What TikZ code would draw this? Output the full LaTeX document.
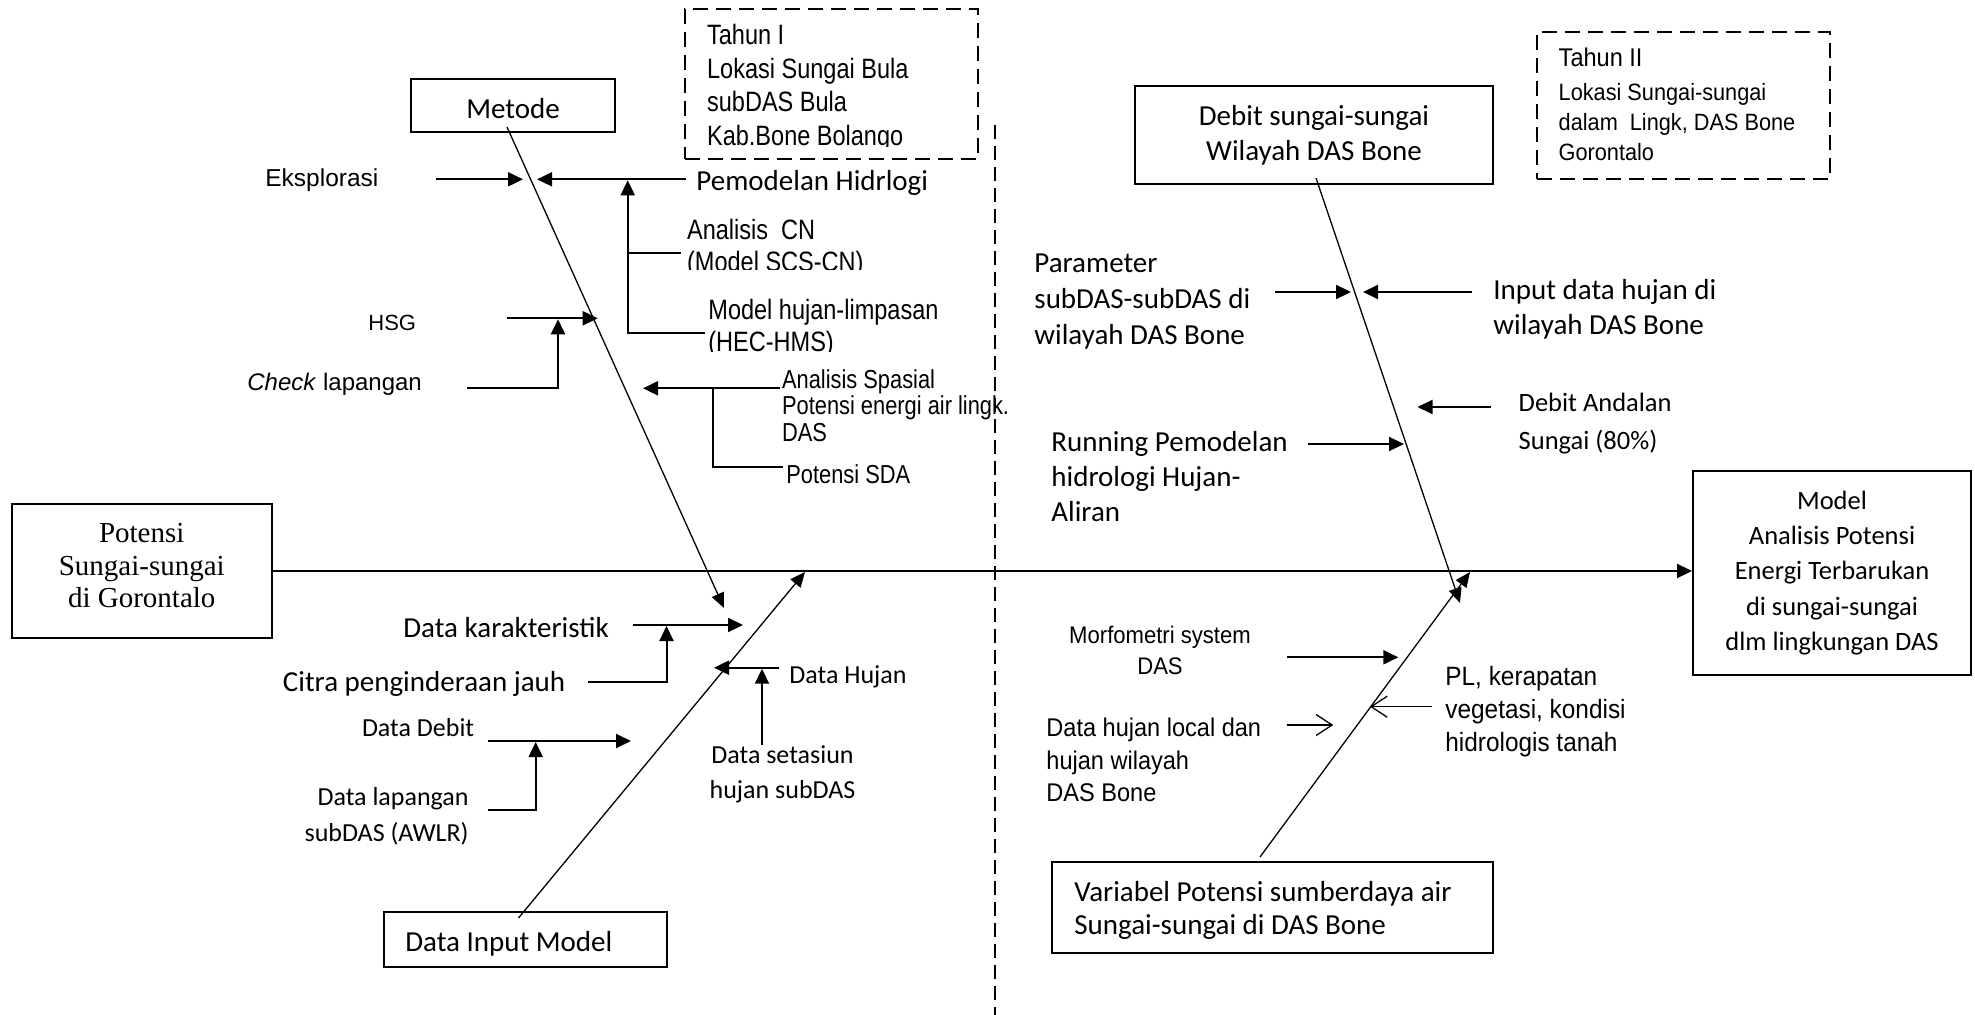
\documentclass[tikz,border=0pt]{standalone}
\usepackage{fontspec}
\setmainfont{Carlito}
\newfontfamily\calfont{Carlito}
\newfontfamily\arR{Liberation Sans}
\newfontfamily\arN[FakeStretch=0.84]{Liberation Sans}
\newfontfamily\arM[FakeStretch=0.92]{Liberation Sans}
\newfontfamily\tmsfont{Liberation Serif}
\usetikzlibrary{arrows.meta}
\newcommand\myfA{\calfont\fontsize{14.5}{17.5}\selectfont}
\newcommand\myfB{\calfont\fontsize{13}{17.5}\selectfont}
\tikzset{
  box/.style={draw, line width=1pt, inner sep=0pt},
  dbox/.style={draw, line width=1pt, dash pattern=on 7.5pt off 4pt, inner sep=0pt},
  lbl/.style={inner sep=0pt, anchor=base west},
  mlbl/.style={inner sep=0pt, anchor=base west, align=flush left, text width=#1},
  clbl/.style={inner sep=0pt, anchor=base, align=flush center, text width=#1},
  rlbl/.style={inner sep=0pt, anchor=base east, align=flush right, text width=#1},
  arr/.style={line width=1pt, -{Triangle[length=7.5pt,width=7pt]}},
  bonearr/.style={line width=0.65pt, -{Triangle[length=7.5pt,width=6.5pt]}},
  plainln/.style={line width=1pt},
  oarr/.style={line width=0.65pt, -{Straight Barb[length=8pt,width=10.5pt]}},
}
\begin{document}
\begin{tikzpicture}[x=0.5pt,y=-0.5pt]
\useasboundingbox (0,0) rectangle (1975,1015);

% ---------- boxes ----------
\node[box, minimum width=102pt, minimum height=26.5pt] (metode) at (513,105.5) {};
\node[inner sep=0pt, anchor=base, font=\myfA] (metodet) at (513,118.3) {Metode};

\node[box, minimum width=179pt, minimum height=49pt, align=center, font=\myfA] (debit) at (1314,135) {Debit sungai-sungai\\Wilayah DAS Bone};

\node[box, minimum width=130.25pt, minimum height=67pt] (potensi) at (141.75,571) {};
\node[clbl=120pt, font=\tmsfont\fontsize{14.5}{16.25}\selectfont] (potensit) at (141.75,542.6) {Potensi\\Sungai-sungai\\di Gorontalo};

\node[box, minimum width=139pt, minimum height=102pt, align=center, font=\calfont\fontsize{13.25}{17.7}\selectfont] (model) at (1832,573) {Model\\Analisis Potensi\\Energi Terbarukan\\di sungai-sungai\\dlm lingkungan DAS};

\node[box, minimum width=141.25pt, minimum height=27.5pt] (input) at (525.25,939.5) {};
\node[lbl, font=\myfA] (inputt) at (405,951.3) {Data Input Model};

\node[box, minimum width=220.5pt, minimum height=45.5pt] (variabel) at (1272.5,907.5) {};
\node[mlbl=205pt, font=\calfont\fontsize{14.5}{16.5}\selectfont] (variabelt) at (1074,901.3) {Variabel Potensi sumberdaya air\\Sungai-sungai di DAS Bone};

\node[dbox, minimum width=146.5pt, minimum height=75pt] (tahun1) at (831.5,84) {};
\node[dbox, minimum width=146.5pt, minimum height=73.5pt] (tahun2) at (1683.5,105.5) {};

\begin{scope}
\clip (686,10) rectangle (977,146.7);
\node[mlbl=140pt, font=\arN\fontsize{14}{16.67}\selectfont] (tahun1t) at (706.7,45) {Tahun I\\Lokasi Sungai Bula\\subDAS Bula\\Kab.Bone Bolango};
\end{scope}

\node[mlbl=135pt, font=\arM\fontsize{11.8}{15}\selectfont] (tahun2t) at (1558.3,66.7) {{\fontsize{12.8}{15}\selectfont Tahun II}\\[1.7pt]Lokasi Sungai-sungai\\dalam\ \ Lingk, DAS Bone\\Gorontalo};

% dashed separator
\coordinate (sep0) at (995,125);
\coordinate (sep1) at (995,1015);
\draw[line width=0.85pt, dash pattern=on 7pt off 3.5pt] (sep0) -- (sep1);

% ---------- spine ----------
\draw[arr] (potensi.east) -- (potensi.east -| model.west);

% ---------- bones ----------
\coordinate (mb0) at (507,127);   \coordinate (mb1) at (724,608);
\coordinate (db0) at (1316,178);  \coordinate (db1) at (1460,603);
\coordinate (ib0) at (518.5,918); \coordinate (ib1) at (805,572);
\coordinate (vb0) at (1260,857);  \coordinate (vb1) at (1470,572);
\draw[bonearr] (mb0) -- (mb1);
\draw[bonearr] (db0) -- (db1);
\draw[bonearr] (ib0) -- (ib1);
\draw[bonearr] (vb0) -- (vb1);

% ---------- Metode side ----------
\node[lbl, font=\arR\fontsize{12.25}{14}\selectfont] (eks) at (265,186.7) {Eksplorasi};
\coordinate (ek0) at (436,179.3); \coordinate (ek1) at (523,179.3);
\draw[arr] (ek0) -- (ek1);

\node[lbl, font=\myfA] (pem) at (696,191) {Pemodelan Hidrlogi};
\coordinate (pm0) at (686,179.3); \coordinate (pm1) at (537,179.3);
\draw[arr] (pm0) -- (pm1);
\coordinate (pv0) at (627.7,332.7); \coordinate (pv1) at (627.7,180.3);
\coordinate (cn0) at (627.7,252.7); \coordinate (cn1) at (681,252.7);
\coordinate (mh1) at (705,332.7);
\draw[plainln] (cn0) -- (cn1);
\draw[arr] (mh1) -- (pv0) -- (pv1);

\begin{scope}
\clip (680,200) rectangle (990,270);
\node[mlbl=150pt, font=\arN\fontsize{14}{15.75}\selectfont] (cnt) at (686.7,240) {Analisis\ \ CN\\(Model SCS-CN)};
\end{scope}
\begin{scope}
\clip (700,280) rectangle (990,351.7);
\node[mlbl=150pt, font=\arN\fontsize{14}{15.85}\selectfont] (hmst) at (708,320) {Model hujan-limpasan\\(HEC-HMS)};
\end{scope}

\node[lbl, font=\arR\fontsize{11}{13}\selectfont] (hsg) at (368,330.7) {HSG};
\coordinate (hs0) at (507,318.3); \coordinate (hs1) at (597.7,318.3);
\draw[arr] (hs0) -- (hs1);
\node[lbl, font=\arR\fontsize{12}{14}\selectfont] (chk) at (247,390.3) {\textit{Check} lapangan};
\coordinate (cl0) at (467,387.7); \coordinate (cl1) at (558,387.7); \coordinate (cl2) at (558,319.3);
\draw[arr] (cl0) -- (cl1) -- (cl2);

\node[mlbl=130pt, font=\arN\fontsize{13}{13.35}\selectfont] (spas) at (781.7,388.3) {Analisis Spasial\\Potensi energi air lingk.\\DAS};
\node[lbl, font=\arN\fontsize{13}{15}\selectfont] (sda) at (786,483.7) {Potensi SDA};
\coordinate (as0) at (780,388.3); \coordinate (as1) at (643,388.3);
\draw[arr] (as0) -- (as1);
\coordinate (sd0) at (713.3,388.3); \coordinate (sd1) at (713.3,466.7); \coordinate (sd2) at (783,466.7);
\draw[plainln] (sd0) -- (sd1) -- (sd2);

% ---------- Data Input side ----------
\node[lbl, font=\myfA] (dkar) at (403,637.3) {Data karakteristik};
\coordinate (dk0) at (633,625); \coordinate (dk1) at (743,625);
\draw[arr] (dk0) -- (dk1);
\node[lbl, font=\myfA] (citra) at (282.5,691.3) {Citra penginderaan jauh};
\coordinate (ct0) at (588,682); \coordinate (ct1) at (666.5,682); \coordinate (ct2) at (666.5,626);
\draw[arr] (ct0) -- (ct1) -- (ct2);

\node[lbl, font=\myfB] (dhuj) at (789,683.4) {Data Hujan};
\coordinate (dh0) at (779,667.7); \coordinate (dh1) at (714,667.7);
\draw[arr] (dh0) -- (dh1);
\node[clbl=80pt, font=\myfB] (dset) at (782.5,763.4) {Data setasiun\\hujan subDAS};
\coordinate (ds0) at (762,745); \coordinate (ds1) at (762,668.7);
\draw[arr] (ds0) -- (ds1);

\node[lbl, font=\myfB] (ddeb) at (361.6,736.4) {Data Debit};
\coordinate (dd0) at (488,741); \coordinate (dd1) at (631,741);
\draw[arr] (dd0) -- (dd1);
\node[rlbl=90pt, font=\calfont\fontsize{13}{18}\selectfont] (dlap) at (469,805.4) {Data lapangan\\subDAS (AWLR)};
\coordinate (dl0) at (488,810); \coordinate (dl1) at (535.7,810); \coordinate (dl2) at (535.7,742);
\draw[arr] (dl0) -- (dl1) -- (dl2);

% ---------- Debit side ----------
\node[mlbl=120pt, font=\calfont\fontsize{14.5}{18}\selectfont] (param) at (1034,272.3) {Parameter\\subDAS-subDAS di\\wilayah DAS Bone};
\coordinate (pa0) at (1275,292); \coordinate (pa1) at (1351,292);
\draw[arr] (pa0) -- (pa1);
\node[mlbl=130pt, font=\myfA] (inp) at (1493,299.3) {Input data hujan di\\wilayah DAS Bone};
\coordinate (in0) at (1472,292); \coordinate (in1) at (1363,292);
\draw[arr] (in0) -- (in1);
\node[mlbl=100pt, font=\calfont\fontsize{13.25}{19.15}\selectfont] (andal) at (1518.3,411.7) {Debit Andalan\\Sungai (80\%)};
\coordinate (da0) at (1491,407); \coordinate (da1) at (1417.5,407);
\draw[arr] (da0) -- (da1);
\node[mlbl=120pt, font=\myfA] (run) at (1051,451.3) {Running Pemodelan\\hidrologi Hujan-\\Aliran};
\coordinate (ru0) at (1308,444); \coordinate (ru1) at (1404,444);
\draw[arr] (ru0) -- (ru1);

% ---------- Variabel side ----------
\node[clbl=110pt, font=\arM\fontsize{12}{15.35}\selectfont] (morf) at (1160,643.3) {Morfometri system\\DAS};
\coordinate (mo0) at (1286.7,657.3); \coordinate (mo1) at (1398.3,657.3);
\draw[arr] (mo0) -- (mo1);
\node[mlbl=110pt, font=\arM\fontsize{13.25}{16.7}\selectfont] (pl) at (1445,685) {PL, kerapatan\\vegetasi, kondisi\\hidrologis tanah};
\coordinate (pl0) at (1431.7,706.7); \coordinate (pl1) at (1370,706.7);
\draw[oarr] (pl0) -- (pl1);
\node[mlbl=120pt, font=\arM\fontsize{12.8}{16.25}\selectfont] (dhl) at (1046,736.7) {Data hujan local dan\\hujan wilayah\\DAS Bone};
\coordinate (hl0) at (1286.7,725); \coordinate (hl1) at (1333.3,725);
\draw[oarr] (hl0) -- (hl1);

\end{tikzpicture}
\end{document}
